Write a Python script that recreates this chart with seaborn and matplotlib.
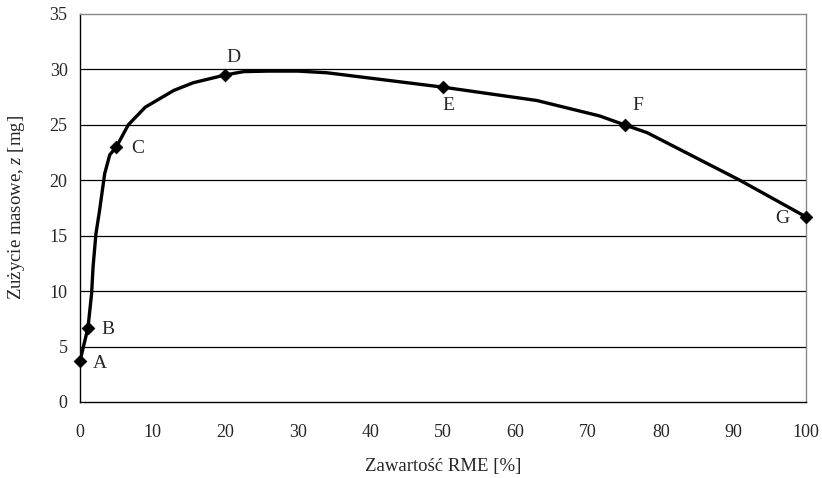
import numpy as np
import pandas as pd
import matplotlib
matplotlib.use("Agg")
import matplotlib.pyplot as plt
import seaborn as sns

# curve (the line has more vertices than the labelled points)
curve_x = [0, 1.1, 1.6, 1.8, 2.2, 2.7, 3.4, 4.1, 5.0, 6.65, 9.0, 12.9, 15.6, 20.0,
           22.5, 26.0, 30.0, 34.0, 50.0, 62.9, 71.6, 75.0, 78.1, 90.9, 100.0]
curve_y = [3.7, 6.7, 9.8, 12.2, 15.2, 17.3, 20.6, 22.3, 23.0, 25.0, 26.6, 28.1, 28.8, 29.5,
           29.8, 29.85, 29.85, 29.7, 28.4, 27.2, 25.8, 25.0, 24.3, 20.0, 16.7]

# labelled measurement points
point_labels = ["A", "B", "C", "D", "E", "F", "G"]
point_x = [0, 1.1, 5, 20, 50, 75, 100]
point_y = [3.7, 6.7, 23.0, 29.5, 28.4, 25.0, 16.7]
# label offsets in pixels from each point
label_dx = [20, 20, 21, 8, 5, 13, -24]
label_dy = [-3, -2, -1, 17, -18, 19, -2]

x_ticks = list(range(0, 101, 10))
y_ticks = list(range(0, 36, 5))

sns.set_style("white")
plt.rcParams["font.family"] = ["Liberation Serif", "DejaVu Serif"]
plt.rcParams["mathtext.fontset"] = "custom"
plt.rcParams["mathtext.it"] = "Liberation Serif:italic"
plt.rcParams["mathtext.rm"] = "Liberation Serif"

fig = plt.figure(figsize=(8.22, 4.78), dpi=100)
ax = fig.add_axes([80 / 822, 1 - 402 / 478, 726 / 822, 388 / 478])

curve = pd.DataFrame({"x": curve_x, "y": curve_y})
points = pd.DataFrame({"x": point_x, "y": point_y, "label": point_labels})

for yv in y_ticks[1:-1]:
    ax.axhline(yv, color="black", lw=0.9, zorder=1)

sns.lineplot(data=curve, x="x", y="y", ax=ax, color="black", lw=2.4,
             sort=False, zorder=3)
sns.scatterplot(data=points, x="x", y="y", ax=ax, marker="D", s=42,
                color="black", edgecolor="black", zorder=4, clip_on=False)

for lab, px, py, dx, dy in zip(point_labels, point_x, point_y, label_dx, label_dy):
    ax.annotate(lab, (px, py), xytext=(dx, dy), textcoords="offset pixels",
                ha="center", va="center", fontsize=14)

ax.set_xlim(0, 100)
ax.set_ylim(0, 35)
ax.set_xticks(x_ticks)
ax.set_yticks(y_ticks)
ax.tick_params(axis="both", direction="out", length=4, width=0.9, color="black",
               labelsize=13, pad=5)
ax.tick_params(axis="x", pad=12)

for side in ["left", "bottom"]:
    ax.spines[side].set_color("black")
    ax.spines[side].set_linewidth(1.0)
for side in ["right", "top"]:
    ax.spines[side].set_color("#888888")
    ax.spines[side].set_linewidth(1.0)

ax.set_xlabel("Zawartość RME [%]", fontsize=13.5, labelpad=12)
ax.set_ylabel("Zużycie masowe, $z$ [mg]", fontsize=13.5, labelpad=16)

fig.savefig("out.png", dpi=100)
